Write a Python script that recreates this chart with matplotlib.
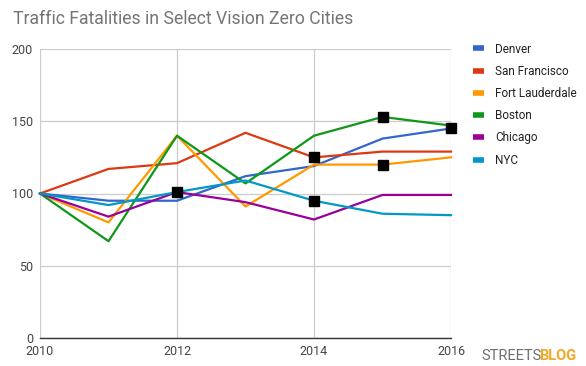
import matplotlib
matplotlib.use("Agg")
import matplotlib.pyplot as plt
from matplotlib.lines import Line2D

years = [2010, 2011, 2012, 2013, 2014, 2015, 2016]
denver = [100, 95, 95, 112, 119, 138, 145]
san_francisco = [100, 117, 121, 142, 125, 129, 129]
fort_lauderdale = [100, 80, 140, 91, 120, 120, 125]
boston = [100, 67, 140, 107, 140, 153, 147]
chicago = [100, 84, 101, 94, 82, 99, 99]
nyc = [100, 92, 101, 109, 95, 86, 85]

series_names = ["Denver", "San Francisco", "Fort Lauderdale", "Boston", "Chicago", "NYC"]
series_values = [denver, san_francisco, fort_lauderdale, boston, chicago, nyc]
colors = ["#3366cc", "#dc3912", "#ff9900", "#109618", "#990099", "#0099c6"]

# highlighted points (black squares): (series, year)
highlight_series = ["NYC", "San Francisco", "NYC", "Boston", "Fort Lauderdale", "Denver"]
highlight_years = [2012, 2014, 2014, 2015, 2015, 2016]

x_ticks = [2010, 2012, 2014, 2016]
y_ticks = [0, 50, 100, 150, 200]
title = "Traffic Fatalities in Select Vision Zero Cities"

plt.rcParams["font.family"] = ["Roboto", "DejaVu Sans"]

fig = plt.figure(figsize=(5.86, 3.66), dpi=100)
ax = fig.add_axes([40 / 586, 28 / 366, 411 / 586, 289 / 366])

for name, vals, c in zip(series_names, series_values, colors):
    ax.plot(years, vals, color=c, lw=1.6, label=name, zorder=3, clip_on=False)

for s, yr in zip(highlight_series, highlight_years):
    vals = series_values[series_names.index(s)]
    ax.plot([yr], [vals[years.index(yr)]], marker="s", color="black",
            markersize=6.5, ls="none", zorder=5, clip_on=False)

ax.set_xlim(2010, 2016)
ax.set_ylim(0, 200)
ax.set_xticks(x_ticks)
ax.set_yticks(y_ticks)
ax.grid(True, color="#cccccc", lw=0.9)
ax.set_axisbelow(True)
for sp in ["top", "right", "left"]:
    ax.spines[sp].set_visible(False)
ax.spines["bottom"].set_color("#333333")
ax.spines["bottom"].set_linewidth(1.0)
ax.spines["bottom"].set_zorder(4)
ax.tick_params(length=0, labelsize=9, colors="#444444", pad=5)

fig.text(13 / 586, 1 - 19 / 366, title, fontsize=12.7, color="#757575",
         va="center", ha="left")

handles = [Line2D([0], [0], color=c, lw=4, solid_capstyle="butt") for c in colors]
leg = fig.legend(handles, series_names, loc="upper left",
                 bbox_to_anchor=(462 / 586, 1 - 32 / 366), frameon=False,
                 fontsize=8.5, handlelength=1.0, handletextpad=0.9,
                 labelspacing=0.78, labelcolor="#222222")

fig.text(481 / 586, 1 - 356 / 366, "STREETS", fontsize=10.5, color="#6f6f6f",
         va="center", ha="left")
fig.text(539 / 586, 1 - 356 / 366, "BLOG", fontsize=10.5, color="#f5a623",
         va="center", ha="left", fontweight="bold")

fig.savefig("out.png", dpi=100)
